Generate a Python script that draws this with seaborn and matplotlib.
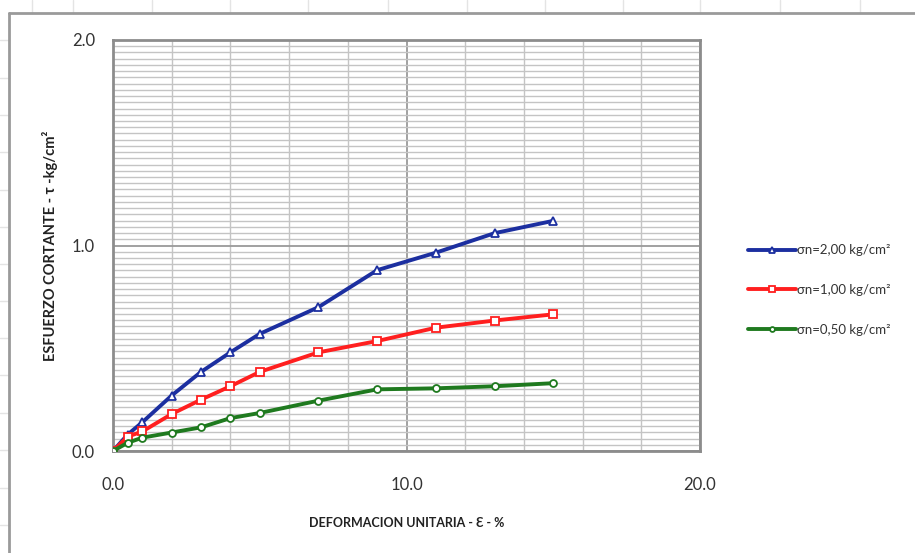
import matplotlib
matplotlib.use("Agg")
import matplotlib.pyplot as plt
import seaborn as sns
import pandas as pd
from matplotlib.ticker import MultipleLocator
from matplotlib.lines import Line2D


# ------------------------------------------------------------------ #
# Data
# ------------------------------------------------------------------ #

deformacion = [0.0, 0.5, 1.0, 2.0, 3.0, 4.0, 5.0, 7.0, 9.0, 11.0, 13.0, 15.0]
tau_200 = [0.0, 0.08, 0.14, 0.27, 0.385, 0.48, 0.57, 0.70, 0.88, 0.965, 1.06, 1.12]
tau_100 = [0.0, 0.07, 0.095, 0.18, 0.25, 0.315, 0.385, 0.48, 0.535, 0.60, 0.635, 0.665]
tau_050 = [0.0, 0.04, 0.065, 0.09, 0.115, 0.16, 0.185, 0.245, 0.30, 0.305, 0.315, 0.33]

series = ["σn=2,00 kg/cm²", "σn=1,00 kg/cm²", "σn=0,50 kg/cm²"]
colors = ["#1c2fa0", "#ff1f1f", "#1f7a1f"]
markers = ["^", "s", "o"]

x_label = "DEFORMACION UNITARIA - Ɛ - %"
y_label = "ESFUERZO CORTANTE - τ -kg/cm²"

df = pd.DataFrame({
    "def": deformacion * 3,
    "tau": tau_200 + tau_100 + tau_050,
    "serie": [s for s in series for _ in deformacion],
})

# ------------------------------------------------------------------ #
# Figure
# ------------------------------------------------------------------ #

sns.set_theme(style="white")
plt.rcParams["font.family"] = ["Lato", "DejaVu Sans"]

fig = plt.figure(figsize=(9.15, 5.53), dpi=100)
W, H = 915, 553
ax = fig.add_axes([113 / W, 1 - 451 / H, 587 / W, 411 / H])

# excel sheet lines + chart area frame
for xv in [32, 73, 152, 230, 308, 388, 467, 545, 623, 700, 780, 860]:
    fig.add_artist(Line2D([xv / W, xv / W], [1 - 13 / H, 1], color="#e4e4e4", lw=1))
for yv in [40, 78, 115, 152, 190, 227, 264, 301, 338, 375, 413, 450, 488, 525]:
    fig.add_artist(Line2D([0, 9 / W], [1 - yv / H, 1 - yv / H], color="#e4e4e4", lw=1))
fig.add_artist(Line2D([9 / W, 1], [1 - 13 / H, 1 - 13 / H], color="#9a9a9a", lw=2))
fig.add_artist(Line2D([9 / W, 9 / W], [0, 1 - 13 / H], color="#9a9a9a", lw=2))

for s, c, m in zip(series, colors, markers):
    sns.lineplot(data=df[df["serie"] == s], x="def", y="tau", ax=ax,
                 color=c, lw=2.8, marker=m, markersize=6 if m != "o" else 5,
                 markerfacecolor="white", markeredgecolor=c, markeredgewidth=1.3,
                 label=s, zorder=3)

ax.set_xlim(0, 20)
ax.set_ylim(0, 2.0)
ax.xaxis.set_major_locator(MultipleLocator(10))
ax.xaxis.set_minor_locator(MultipleLocator(2))
ax.yaxis.set_major_locator(MultipleLocator(1))
ax.yaxis.set_minor_locator(MultipleLocator(1 / 33))
ax.xaxis.set_major_formatter(lambda v, p: f"{v:.1f}")
ax.yaxis.set_major_formatter(lambda v, p: f"{v:.1f}")

ax.grid(True, which="minor", color="#c4c4c4", lw=1.0)
ax.grid(True, which="major", color="#9a9a9a", lw=1.3)
ax.set_axisbelow(True)

for sp in ax.spines.values():
    sp.set_color("#8c8c8c")
    sp.set_linewidth(2)

ax.tick_params(axis="both", which="major", direction="out", length=5, width=1.5,
               color="#8c8c8c", labelsize=12, labelcolor="#333333", pad=8)
ax.tick_params(axis="both", which="minor", length=0)
ax.tick_params(axis="x", pad=14)

ax.set_xlabel(x_label, fontsize=9, fontweight="bold", color="#222222", labelpad=17)
ax.set_ylabel(y_label, fontsize=10.5, fontweight="bold", color="#222222", labelpad=10)

leg = ax.legend(loc="center left", bbox_to_anchor=(748 / W, 1 - 290 / H),
                bbox_transform=fig.transFigure, frameon=False, fontsize=9.5,
                handlelength=3.6, handletextpad=0.1, labelspacing=2.1,
                borderpad=0, borderaxespad=0, markerscale=0.7)
for t in leg.get_texts():
    t.set_color("#333333")

fig.savefig("out.png", dpi=100)
